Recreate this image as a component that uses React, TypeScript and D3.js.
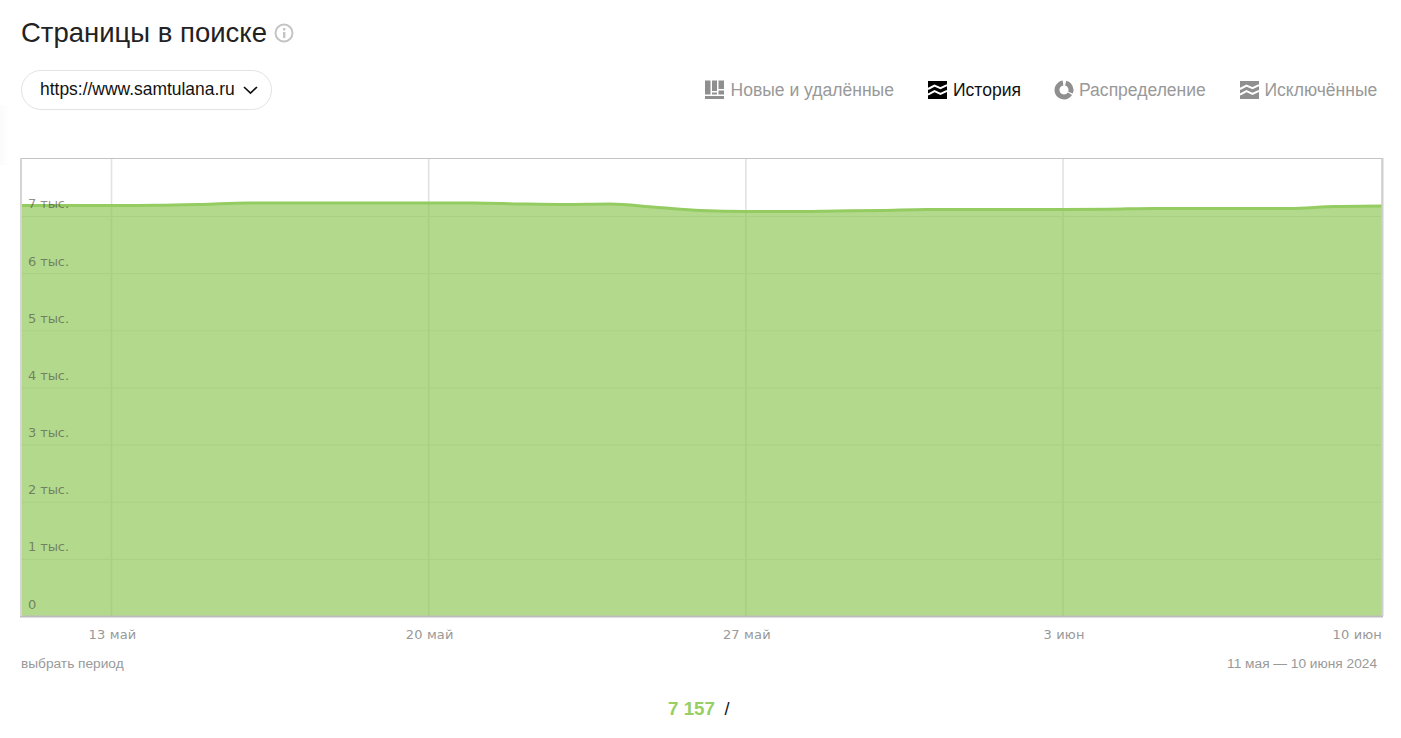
import React from "react";
import * as d3 from "d3";

const startDay = new Date(2024, 4, 11);
const pageValues = [7184, 7184, 7184, 7186, 7202, 7228, 7228, 7228, 7228, 7228, 7228, 7212, 7202, 7210, 7155, 7097, 7079, 7079, 7088, 7097, 7114, 7114, 7114, 7114, 7118, 7132, 7132, 7132, 7132, 7167, 7175];
const yTicks = [0, 1000, 2000, 3000, 4000, 5000, 6000, 7000];
const yTickLabels = ["0", "1 тыс.", "2 тыс.", "3 тыс.", "4 тыс.", "5 тыс.", "6 тыс.", "7 тыс."];
const xTickDays = [2, 9, 16, 23, 30];
const xTickLabels = ["13 май", "20 май", "27 май", "3 июн", "10 июн"];
const tabs = ["Новые и удалённые", "История", "Распределение", "Исключённые"];
const tabX = [730.5, 953, 1079, 1264.5];

const W = 1401, H = 738;
const sans = "'Liberation Sans', Arial, sans-serif";
const axisFont = "'DejaVu Sans', Verdana, sans-serif";

const x = d3.scaleLinear().domain([0, 30.04]).range([20.9, 1382]);
const y = d3.scaleLinear().domain([0, 7000]).range([616, 216]);

const dates = pageValues.map((_, i) => d3.timeDay.offset(startDay, i));
const idx = (d: Date) => d3.timeDay.count(startDay, d);
const curve = d3.curveMonotoneX;
const pointX = (d: Date, i: number) => (i === pageValues.length - 1 ? x.range()[1] : x(idx(d)));
const area = d3.area<Date>().x(pointX).y0(y(0)).y1((d, i) => y(pageValues[i])).curve(curve);
const line = d3.line<Date>().x(pointX).y((d, i) => y(pageValues[i])).curve(curve);

const donutArc = d3.arc<{ a: number; b: number }>().innerRadius(4.6).outerRadius(9.5).startAngle(d => d.a).endAngle(d => d.b);
const deg = Math.PI / 180;
const donutParts = [{ a: 14 * deg, b: 112 * deg }, { a: 122 * deg, b: 352 * deg }];

function WaveIcon({ x0, color }: { x0: number; color: string }) {
  const wave = (top: number) => `M${x0} ${top + 3}l6.5-3.4 6 2.6 6.5-3`;
  return (
    <g>
      <rect x={x0} y={81} width={19} height={18} fill={color} />
      <path d={wave(86)} fill="none" stroke="#fff" strokeWidth={2} />
      <path d={wave(91.6)} fill="none" stroke="#fff" strokeWidth={2} />
    </g>
  );
}

export default function App() {
  return (
    <div style={{ position: "absolute", left: 0, top: 0 }}>
      <svg width={W} height={H} style={{ display: "block", background: "#fff" }}>
        <defs>
          <linearGradient id="edge" x1="0" x2="1" y1="0" y2="0">
            <stop offset="0" stopColor="#fbfbfb" />
            <stop offset="1" stopColor="#ffffff" />
          </linearGradient>
        </defs>
        <rect x={0} y={105} width={10} height={60} fill="url(#edge)" />

        <text x={21} y={42} fontFamily={sans} fontSize={27.5} fill="#222">Страницы в поиске</text>
        <circle cx={284} cy={33} r={8.5} fill="none" stroke="#c4c4c4" strokeWidth={2} />
        <rect x={283} y={32} width={2.4} height={6} fill="#c4c4c4" />
        <rect x={283} y={28} width={2.4} height={2.4} fill="#c4c4c4" />

        <rect x={21.5} y={70.5} width={250} height={39} rx={19.5} fill="#fff" stroke="#e3e3e3" />
        <text x={40} y={95} fontFamily={sans} fontSize={17.45} fill="#111">https://www.samtulana.ru</text>
        <path d="M244 87l6.5 6 6.5-6" fill="none" stroke="#111" strokeWidth={1.7} />

        <g fill="#8f8f8f">
          <rect x={705} y={80.5} width={5.5} height={14} />
          <rect x={712} y={80.5} width={5} height={10.5} />
          <rect x={712} y={92.5} width={5} height={2} />
          <rect x={718.5} y={80.5} width={5.5} height={8.5} />
          <rect x={718.5} y={90.5} width={5.5} height={4} />
          <rect x={705} y={96} width={19} height={3} />
        </g>
        <WaveIcon x0={928} color="#000" />
        <g transform="translate(1064,90)" fill="#8f8f8f">
          {donutParts.map((p, i) => <path key={i} d={donutArc(p) ?? ""} />)}
        </g>
        <WaveIcon x0={1240} color="#8f8f8f" />
        {tabs.map((t, i) => (
          <text key={t} x={tabX[i]} y={96} fontFamily={sans} fontSize={17.55} fill={i === 1 ? "#111" : "#999"}>{t}</text>
        ))}

        {yTicks.filter(t => t > 0).map(t => (
          <line key={t} x1={21} x2={1382} y1={y(t) + 0.5} y2={y(t) + 0.5} stroke="#e6e6e6" />
        ))}
        {xTickDays.slice(0, 4).map(d => (
          <line key={d} x1={x(d)} x2={x(d)} y1={158} y2={616} stroke="#e2e2e2" strokeWidth={1.6} />
        ))}

        <path d={area(dates) ?? ""} fill="#8ac54e" fillOpacity={0.65} />
        <path d={line(dates) ?? ""} fill="none" stroke="#94cc62" strokeWidth={3} />

        {yTicks.map((t, i) => (
          <text key={t} x={28} y={i === 0 ? 609 : y(t) - 7.5 - (i === 7 ? 1 : 0)} fontFamily={axisFont} fontSize={13} letterSpacing={-0.1} fill="#444" fillOpacity={0.6}>{yTickLabels[i]}</text>
        ))}

        <path d="M21.5 616V158.5H1382V616" fill="none" stroke="#c4c4c4" strokeWidth={1} />
        <line x1={20} x2={1383} y1={616.5} y2={616.5} stroke="#bdbdbd" strokeWidth={2} />
        <line x1={21} x2={21} y1={158} y2={616} stroke="#d4d4d4" strokeWidth={2} />
        <line x1={1382.5} x2={1382.5} y1={158} y2={616} stroke="#d0d0d0" strokeWidth={2} />

        {xTickDays.map((d, i) => (
          <text key={d} x={i === 4 ? 1382 : x(d) + 1} y={638.5} textAnchor={i === 4 ? "end" : "middle"} fontFamily={axisFont} fontSize={13} letterSpacing={0.15} fill="#999">{xTickLabels[i]}</text>
        ))}

        <text x={21} y={667.5} fontFamily={sans} fontSize={13.7} fill="#999">выбрать период</text>
        <text x={1377} y={667.5} textAnchor="end" fontFamily={sans} fontSize={13.7} fill="#999">11 мая — 10 июня 2024</text>

        <text x={668} y={715} fontFamily={sans} fontSize={18.8} fontWeight={700} fill="#97cf62">7 157</text>
        <text x={724.5} y={715} fontFamily={sans} fontSize={18} fill="#111">/</text>
      </svg>
    </div>
  );
}
